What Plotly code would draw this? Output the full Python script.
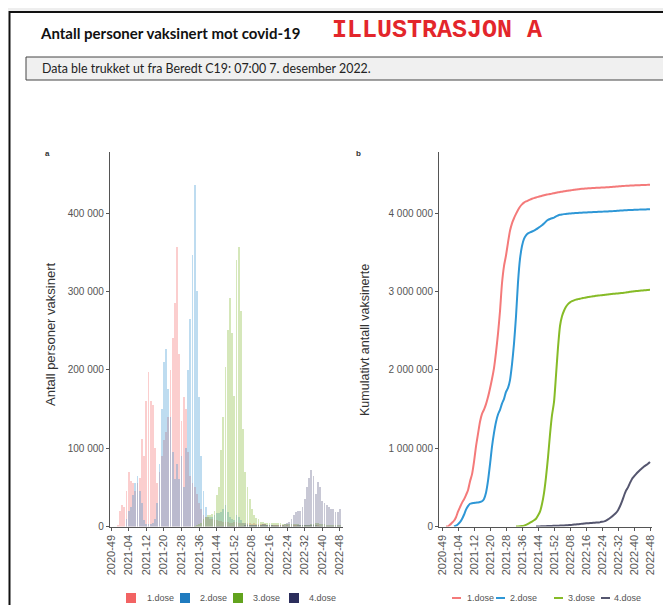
import numpy as np
import plotly.graph_objects as go

# ---------------- data ----------------
weeks = ([f"2020-{w:02d}" for w in range(49, 54)]
         + [f"2021-{w:02d}" for w in range(1, 53)]
         + [f"2022-{w:02d}" for w in range(1, 49)])

tick_labels = ["2020-49", "2021-04", "2021-12", "2021-20", "2021-28", "2021-36", "2021-44",
               "2021-52", "2022-08", "2022-16", "2022-24", "2022-32", "2022-40", "2022-48"]

series_names = ["1.dose", "2.dose", "3.dose", "4.dose"]

dose1 = [0, 0, 0, 1500, 20000, 27000, 25000, 45000, 70000, 58000,
         55000, 45000, 55000, 62000, 112000, 90000, 160000, 197000, 160000, 155000,
         100000, 55000, 70000, 90000, 110000, 120000, 140000, 200000, 240000, 285000,
         357000, 220000, 135000, 165000, 150000, 95000, 65000, 55000, 50000, 42000,
         30000, 22000, 15000, 12000, 12000, 10000, 9000, 8000, 8000, 7000,
         7000, 6000, 6000, 5500, 5000, 4500, 6000, 5500, 5000, 4500,
         4000, 4500, 4000, 4000, 3500, 4000, 3500, 3500, 3000, 3500,
         3000, 2000, 1800, 2000, 1800, 1500, 1800, 1500, 1500, 1200,
         1500, 1200, 1200, 1500, 1800, 2000, 2200, 2500, 2200, 2000,
         1800, 1800, 1500, 1500, 1500, 1200, 1200, 1200, 1000, 1000,
         1000, 1000, 1000, 1000, 1000]

dose2 = [0, 0, 0, 0, 0, 0, 0, 10000, 20000, 25000,
         40000, 55000, 65000, 45000, 30000, 8000, 3000, 3000, 3000, 5000,
         10000, 30000, 80000, 150000, 210000, 227000, 175000, 140000, 95000, 60000,
         80000, 60000, 90000, 50000, 100000, 200000, 265000, 346000, 436000, 300000,
         165000, 90000, 45000, 25000, 12000, 12000, 12000, 15000, 17000, 17000,
         19000, 22000, 27000, 19000, 12000, 10000, 8000, 15000, 12000, 8000,
         5000, 4000, 3000, 2500, 2500, 2000, 2000, 2000, 1500, 1500,
         1500, 1500, 1500, 1500, 1200, 1200, 1200, 1200, 1200, 1200,
         1200, 1200, 1200, 1200, 1200, 1500, 1500, 2000, 2000, 2000,
         1500, 1500, 1500, 1500, 1200, 1200, 1200, 1200, 1000, 1000,
         1000, 800, 800, 800, 800]

dose3 = [0, 0, 0, 0, 0, 0, 0, 0, 0, 0,
         0, 0, 0, 0, 0, 0, 0, 0, 0, 0,
         0, 0, 0, 0, 0, 0, 0, 0, 0, 0,
         0, 0, 0, 0, 0, 0, 0, 0, 1000, 2000,
         3000, 5000, 10000, 12000, 15000, 15000, 16000, 20000, 40000, 50000,
         98000, 140000, 204000, 251000, 292000, 247000, 166000, 340000, 357000, 275000,
         125000, 70000, 50000, 35000, 22000, 15000, 11000, 9000, 6000, 6000,
         5000, 5000, 5000, 5000, 4000, 4000, 4000, 4000, 3000, 3000,
         3000, 3000, 3000, 3000, 3000, 3000, 2500, 2500, 2500, 2500,
         2500, 3000, 3500, 4000, 4000, 3500, 3000, 3000, 2500, 2500,
         2500, 2500, 2000, 2000, 2000]

dose4 = [0, 0, 0, 0, 0, 0, 0, 0, 0, 0,
         0, 0, 0, 0, 0, 0, 0, 0, 0, 0,
         0, 0, 0, 0, 0, 0, 0, 0, 0, 0,
         0, 0, 0, 0, 0, 0, 0, 0, 0, 0,
         0, 0, 0, 0, 0, 0, 0, 0, 500, 1000,
         1000, 1000, 1000, 1000, 1000, 1000, 1000, 1000, 1000, 1000,
         1000, 1500, 1500, 2000, 2000, 2000, 2500, 2500, 2500, 3000,
         3000, 2500, 2500, 2000, 2000, 2000, 2000, 2000, 2500, 3000,
         4000, 6000, 10000, 15000, 18000, 20000, 20000, 25000, 35000, 50000,
         62000, 72000, 65000, 42000, 57000, 50000, 32000, 30000, 28000, 25000,
         22000, 22000, 18000, 18000, 22000]

series = [dose1, dose2, dose3, dose4]

# ---------------- styles ----------------
bar_colors = ["rgba(242,107,107,0.33)", "rgba(40,140,205,0.30)",
              "rgba(125,180,40,0.32)", "rgba(50,50,100,0.27)"]
legend_sq_colors = ["#F26363", "#1F7BBF", "#62A31E", "#2C2E5C"]
line_colors = ["#F47A7A", "#2E97D6", "#86BB27", "#55566F"]

W, H = 671, 605
# the page places the figure 8 px in from the top-left corner of the window
OFF = 8
def px(x):
    return (x - OFF) / W
def py(y):
    return 1 - (y - OFF) / H

FONT = "Liberation Sans, Arial, sans-serif"

fig = go.Figure()

# ---- left panel: weekly bars ----
for name, vals, col in zip(series_names, series, bar_colors):
    fig.add_trace(go.Bar(x=weeks, y=vals, name=name, marker_color=col,
                         marker_line_width=0, width=0.85, showlegend=False,
                         xaxis="x", yaxis="y"))

# ---- right panel: cumulative lines ----
def cumulative(vals):
    c = np.cumsum(vals)
    first = next(i for i, v in enumerate(vals) if v > 0)
    return [None if i < first - 1 else int(c[i]) for i in range(len(vals))]

for name, vals, col in zip(series_names, series, line_colors):
    fig.add_trace(go.Scatter(x=weeks, y=cumulative(vals), mode="lines", name=name,
                             line=dict(color=col, width=2, shape="spline", smoothing=0.6),
                             showlegend=False, xaxis="x2", yaxis="y2"))

axis_common = dict(showline=True, linecolor="#555555", linewidth=1, ticks="outside",
                   ticklen=3, tickcolor="#555555", showgrid=False, zeroline=False)
XTICKFONT = dict(family=FONT, size=11, color="#555555")
YTICKFONT = dict(family=FONT, size=10, color="#555555")

y_bottom, y_top = py(526.5), py(152)

fig.update_layout(
    width=W, height=H,
    margin=dict(l=0, r=0, t=0, b=0, pad=0, autoexpand=False),
    paper_bgcolor="white", plot_bgcolor="white",
    separators=", ",
    barmode="overlay",
    bargap=0,
    showlegend=False,
    xaxis=dict(domain=[px(109.9), px(343.1)], type="category", categoryorder="array",
               categoryarray=weeks, range=[-0.5, 105.5], tickmode="array",
               tickvals=tick_labels, ticktext=tick_labels, tickangle=-90, anchor="y",
               tickfont=XTICKFONT, **axis_common),
    yaxis=dict(domain=[y_bottom, y_top], range=[0, 478000], dtick=100000,
               tickformat=",d", anchor="x", tickfont=YTICKFONT, **axis_common),
    xaxis2=dict(domain=[px(439), px(652)], type="category", categoryorder="array",
                categoryarray=weeks, range=[-1.5, 105], tickmode="array",
                tickvals=tick_labels, ticktext=tick_labels, tickangle=-90, anchor="y2",
                tickfont=XTICKFONT, **axis_common),
    yaxis2=dict(domain=[y_bottom, y_top], range=[0, 4780000], dtick=1000000,
                tickformat=",d", anchor="x2", tickfont=YTICKFONT, **axis_common),
)

shapes = [
    # shadow above frame
    dict(type="rect", xref="paper", yref="paper", x0=0, x1=1, y0=py(11), y1=1.0,
         fillcolor="#eeeeee", line=dict(width=0), layer="below"),
    # outer frame
    dict(type="rect", xref="paper", yref="paper", x0=px(9.5), x1=1.05, y0=-0.05, y1=py(12),
         line=dict(color="#111111", width=2), fillcolor="white", layer="below"),
    # info box
    dict(type="rect", xref="paper", yref="paper", x0=px(26), x1=px(664), y0=py(80), y1=py(57),
         line=dict(color="#444444", width=1), fillcolor="#f0f0f0", layer="below"),
]

ann = [
    dict(text="<b>Antall personer vaksinert mot covid-19</b>", x=px(38), y=py(33),
         xanchor="left", yanchor="middle",
         font=dict(family="Lato, sans-serif", size=15, color="#111111")),
    dict(text="<b>ILLUSTRASJON A</b>", x=px(330), y=py(31), xanchor="left", yanchor="middle",
         font=dict(family="Liberation Mono, Courier New, monospace", size=25, color="#E3262B")),
    dict(text="Data ble trukket ut fra Beredt C19: 07:00 7. desember 2022.", x=px(40),
         y=py(68.5), xanchor="left", yanchor="middle",
         font=dict(family="Lato, sans-serif", size=12.4, color="#222222")),
    dict(text="<b>a</b>", x=px(47), y=py(153), xanchor="center", yanchor="middle",
         font=dict(family=FONT, size=8, color="#333333")),
    dict(text="<b>b</b>", x=px(358), y=py(153), xanchor="center", yanchor="middle",
         font=dict(family=FONT, size=8, color="#333333")),
    dict(text="Antall personer vaksinert", x=px(50), y=py(335), textangle=-90,
         xanchor="center", yanchor="middle",
         font=dict(family=FONT, size=13, color="#333333")),
    dict(text="Kumulativt antall vaksinerte", x=px(365), y=py(340), textangle=-90,
         xanchor="center", yanchor="middle",
         font=dict(family=FONT, size=12.5, color="#333333")),
]

# ---- legends (drawn as swatches + text) ----
LEG_Y = 598
bar_leg_sq_x = [126, 180, 233, 289]      # left edge of squares
bar_leg_txt_x = [145, 198, 251, 307]
line_leg_x = [452, 496, 554, 601]        # left end of line swatches
line_leg_txt_x = [465, 508, 566, 612]
LEGFONT = dict(family=FONT, size=9, color="#555555")

for name, col, sx, tx in zip(series_names, legend_sq_colors, bar_leg_sq_x, bar_leg_txt_x):
    shapes.append(dict(type="rect", xref="paper", yref="paper", x0=px(sx), x1=px(sx + 10),
                       y0=py(LEG_Y + 5), y1=py(LEG_Y - 5), fillcolor=col, line=dict(width=0)))
    ann.append(dict(text=name, x=px(tx), y=py(LEG_Y), xanchor="left", yanchor="middle",
                    font=LEGFONT))

for name, col, sx, tx in zip(series_names, line_colors, line_leg_x, line_leg_txt_x):
    shapes.append(dict(type="line", xref="paper", yref="paper", x0=px(sx), x1=px(sx + 9),
                       y0=py(LEG_Y), y1=py(LEG_Y), line=dict(color=col, width=2)))
    ann.append(dict(text=name, x=px(tx), y=py(LEG_Y), xanchor="left", yanchor="middle",
                    font=LEGFONT))

for a in ann:
    a.update(xref="paper", yref="paper", showarrow=False)
fig.update_layout(shapes=shapes, annotations=ann)

fig.write_html("out.html")
